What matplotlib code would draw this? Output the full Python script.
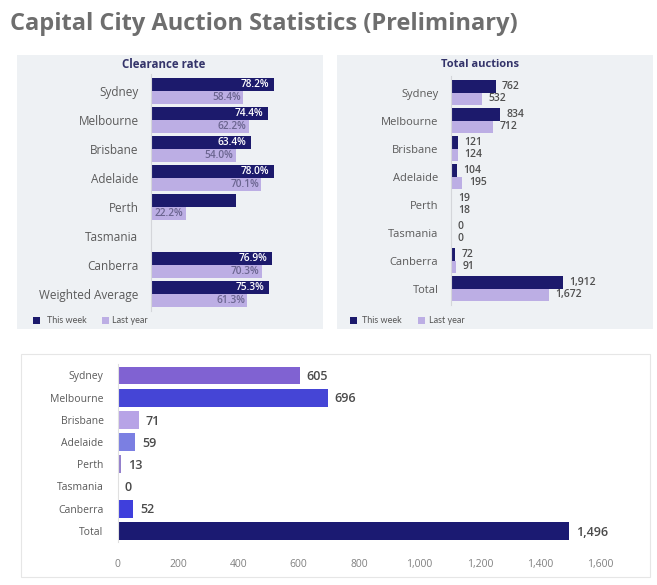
import matplotlib
matplotlib.use("Agg")
import matplotlib.pyplot as plt
from matplotlib.patches import Rectangle

# ---------------- data ----------------
cities_cr = ["Sydney", "Melbourne", "Brisbane", "Adelaide", "Perth", "Tasmania", "Canberra", "Weighted Average"]
cr_this_week = [78.2, 74.4, 63.4, 78.0, 54.0, 0.0, 76.9, 75.3]
cr_this_week_labels = ["78.2%", "74.4%", "63.4%", "78.0%", "", "", "76.9%", "75.3%"]
cr_last_year = [58.4, 62.2, 54.0, 70.1, 22.2, 0.0, 70.3, 61.3]
cr_last_year_labels = ["58.4%", "62.2%", "54.0%", "70.1%", "22.2%", "", "70.3%", "61.3%"]

cities_ta = ["Sydney", "Melbourne", "Brisbane", "Adelaide", "Perth", "Tasmania", "Canberra", "Total"]
ta_this_week = [762, 834, 121, 104, 19, 0, 72, 1912]
ta_last_year = [532, 712, 124, 195, 18, 0, 91, 1672]

cities_bt = ["Sydney", "Melbourne", "Brisbane", "Adelaide", "Perth", "Tasmania", "Canberra", "Total"]
bt_values = [605, 696, 71, 59, 13, 0, 52, 1496]
bt_colors = ["#8062d2", "#4545d6", "#b7a3e6", "#7b7fe2", "#9480cc", "#ffffff", "#3f3fdc", "#1b1a72"]
bt_ticks = [0, 200, 400, 600, 800, 1000, 1200, 1400, 1600]

title = "Capital City Auction Statistics (Preliminary)"
legend_labels = ["This week", "Last year"]

# ---------------- style ----------------
W, H = 657, 585
FONT = ["Open Sans", "DejaVu Sans"]
plt.rcParams["font.family"] = FONT
NAVY = "#1c1a6c"
LAV = "#bcaee4"
PANEL = "#eef1f4"
LABEL_GRAY = "#5a5a5a"

fig = plt.figure(figsize=(W / 100, H / 100), dpi=100)
fig.patch.set_facecolor("white")


def fx(x):
    return x / W


def fy(y):
    return 1 - y / H


def add_rect(x0, y0, x1, y1, fc, ec="none", lw=0, z=-5):
    r = Rectangle((fx(x0), fy(y1)), fx(x1) - fx(x0), fy(y0) - fy(y1),
                  transform=fig.transFigure, facecolor=fc, edgecolor=ec, lw=lw, zorder=z)
    fig.patches.append(r)


def axes_px(x0, y0, x1, y1):
    a = fig.add_axes([fx(x0), fy(y1), fx(x1) - fx(x0), fy(y0) - fy(y1)])
    a.set_zorder(5)
    a.patch.set_alpha(0)
    return a


# title
fig.text(fx(10), fy(24), title, fontsize=17, fontweight="bold", color="#6e6e6e",
         ha="left", va="center")

# panels
add_rect(17, 55, 323, 329, PANEL)
add_rect(337, 55, 653, 329, PANEL)
add_rect(21, 354, 650, 577, "white", ec="#e6e6e6", lw=0.8)

# ---------------- clearance rate ----------------
ax1 = axes_px(151, 78 - 0.15 * 29, 151 + 100 * 1.573, 78 + 8.05 * 29)
n = len(cities_cr)
pos = list(range(n))
bh = 0.45
ax1.barh([p - bh / 2 for p in pos], cr_this_week, height=bh, color=NAVY)
ax1.barh([p + bh / 2 for p in pos], cr_last_year, height=bh, color=LAV)
for p, v, lab in zip(pos, cr_this_week, cr_this_week_labels):
    if lab:
        ax1.text(v - 3.0, p - bh / 2, lab, ha="right", va="center", color="white",
                 fontsize=7.3, fontweight=600)
for p, v, lab in zip(pos, cr_last_year, cr_last_year_labels):
    if lab:
        ax1.text(v - 1.5, p + bh / 2, lab, ha="right", va="center", color="#6b6590",
                 fontsize=7.3, fontweight=600)
ax1.set_xlim(0, 100)
ax1.set_ylim(7.6, -0.6)
ax1.set_yticks(pos)
ax1.set_yticklabels(cities_cr, fontsize=8.5, color=LABEL_GRAY)
ax1.tick_params(axis="y", length=0, pad=9)
ax1.set_xticks([])
for s in ["top", "right", "bottom"]:
    ax1.spines[s].set_visible(False)
ax1.spines["left"].set_color("#d4d6da")
ax1.spines["left"].set_linewidth(0.8)
fig.text(fx(164), fy(64.5), "Clearance rate", fontsize=8.3, fontweight="bold",
         color="#34346a", ha="center", va="center")

# legend panel 1
leg1 = [(33, 47), (102, 112)]
for (sq, tx), lab, c in zip(leg1, legend_labels, [NAVY, LAV]):
    add_rect(sq, 317, sq + 7, 324, c, z=-1)
    fig.text(fx(tx), fy(320.5), lab, fontsize=6.5, color="#555555", ha="left", va="center",
             family=["Lato", "DejaVu Sans"])

# ---------------- total auctions ----------------
sc = 0.0586
ax2 = axes_px(451, 80 - 0.15 * 28, 451 + 2400 * sc, 80 + 8.05 * 28)
ax2.barh([p - bh / 2 for p in pos], ta_this_week, height=bh, color=NAVY)
ax2.barh([p + bh / 2 for p in pos], ta_last_year, height=bh, color=LAV)
for p, v in zip(pos, ta_this_week):
    ax2.text(v + 110, p - bh / 2, f"{v:,}", ha="left", va="center", color="#505050",
             fontsize=7.5, fontweight=600)
for p, v in zip(pos, ta_last_year):
    ax2.text(v + 110, p + bh / 2, f"{v:,}", ha="left", va="center", color="#505050",
             fontsize=7.5, fontweight=600)
ax2.set_xlim(0, 2400)
ax2.set_ylim(7.6, -0.6)
ax2.set_yticks(pos)
ax2.set_yticklabels(cities_ta, fontsize=8, color=LABEL_GRAY)
ax2.tick_params(axis="y", length=0, pad=9)
ax2.set_xticks([])
for s in ["top", "right", "bottom"]:
    ax2.spines[s].set_visible(False)
ax2.spines["left"].set_color("#d4d6da")
ax2.spines["left"].set_linewidth(0.8)
fig.text(fx(480), fy(64.5), "Total auctions", fontsize=8, fontweight="bold",
         color="#34346a", ha="center", va="center")

leg2 = [(350, 362), (418, 429)]
for (sq, tx), lab, c in zip(leg2, legend_labels, [NAVY, LAV]):
    add_rect(sq, 317, sq + 7, 324, c, z=-1)
    fig.text(fx(tx), fy(320.5), lab, fontsize=6.5, color="#555555", ha="left", va="center",
             family=["Lato", "DejaVu Sans"])

# ---------------- bottom chart ----------------
sb = 0.302
sp = 22.2
ax3 = axes_px(117.5, 375.5 - 0.5 * sp, 117.5 + 1600 * sb, 375.5 + 7.5 * sp)
pos3 = list(range(len(cities_bt)))
ax3.barh(pos3, bt_values, height=0.8, color=bt_colors)
for p, v in zip(pos3, bt_values):
    ax3.text(v + 22, p + 0.05, f"{v:,}", ha="left", va="center", color="#4a4a4a",
             fontsize=9, fontweight=600)
ax3.set_xlim(0, 1600)
ax3.set_ylim(7.5, -0.5)
ax3.set_yticks(pos3)
ax3.set_yticklabels(cities_bt, fontsize=7.5, color=LABEL_GRAY)
ax3.set_xticks(bt_ticks)
ax3.set_xticklabels([f"{t:,}" for t in bt_ticks], fontsize=7.5, color="#808080")
ax3.tick_params(axis="y", length=0, pad=10)
ax3.tick_params(axis="x", length=0, pad=12)
for s in ["top", "right", "bottom"]:
    ax3.spines[s].set_visible(False)
ax3.spines["left"].set_color("#e0e0e0")
ax3.spines["left"].set_linewidth(0.8)

fig.savefig("out.png", dpi=100, facecolor="white")
